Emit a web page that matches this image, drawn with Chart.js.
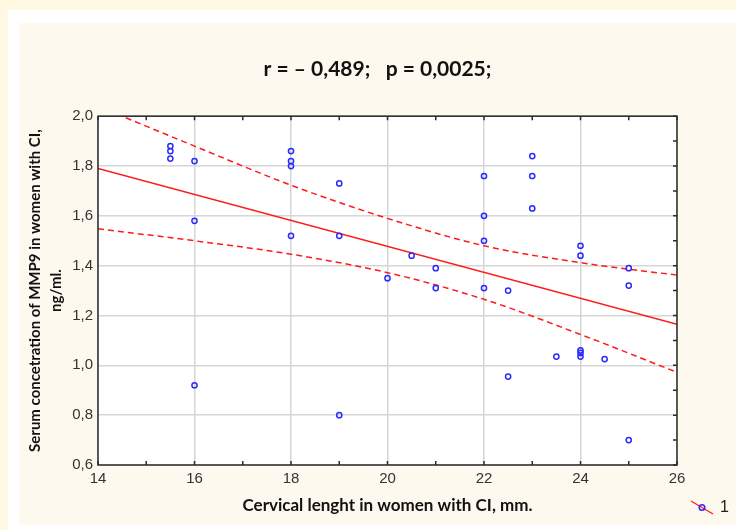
<!DOCTYPE html>
<html>
<head>
<meta charset="utf-8">
<script src="https://cdn.jsdelivr.net/npm/chart.js@4/dist/chart.umd.min.js"></script>
<style>
  html, body { margin: 0; padding: 0; }
  body { width: 736px; height: 530px; background: #fff9e4; position: relative; overflow: hidden; }
  #frame { position: absolute; left: 8px; top: 10px; width: 728px; height: 520px; background: #ffffff; }
  #wrap { position: absolute; left: 19px; top: 23px; width: 717px; height: 502px; background: #fef9ef; }
</style>
</head>
<body>
<div id="frame"></div>
<div id="wrap"><canvas id="chart" width="717" height="502"></canvas></div>
<script>
// cervical length (mm) and serum MMP9 (ng/ml)
const cervLen = [15.5, 15.5, 15.5, 16, 16, 16, 18, 18, 18, 18, 19, 19, 19, 20, 20.5, 21, 21,
  22, 22, 22, 22, 22.5, 22.5, 23, 23, 23, 23.5, 24, 24, 24, 24, 24, 24.5, 25, 25, 25];
const mmp9 = [1.88, 1.86, 1.83, 1.82, 1.58, 0.92, 1.86, 1.82, 1.80, 1.52, 1.73, 1.52, 0.80, 1.35, 1.44, 1.39, 1.31,
  1.76, 1.60, 1.50, 1.31, 1.30, 0.955, 1.84, 1.76, 1.63, 1.035, 1.48, 1.44, 1.06, 1.05, 1.035, 1.025, 1.39, 1.32, 0.70];

const fitX = [14, 26];
const fitY = [1.79, 1.165];
const upperX = [14, 16, 18, 20, 22, 24, 26];
const upperY = [2.04, 1.88, 1.723, 1.59, 1.48, 1.412, 1.362];
const lowerX = [14, 16, 18, 20, 22, 24, 26];
const lowerY = [1.548, 1.50, 1.446, 1.372, 1.265, 1.124, 0.972];

const xTicks = [14, 16, 18, 20, 22, 24, 26];
const yTicks = [0.6, 0.8, 1.0, 1.2, 1.4, 1.6, 1.8, 2.0];

function pairs(xs, ys) {
  return xs.map((x, i) => ({ x: x, y: ys[i] }));
}

const red = "#ff1a1a";
const blue = "#2a2aff";

const frameBox = {
  id: "frameBox",
  beforeDraw(chart) {
    const a = chart.chartArea;
    const c = chart.ctx;
    c.save();
    c.fillStyle = "#ffffff";
    c.fillRect(a.left, a.top, a.right - a.left, a.bottom - a.top);
    c.restore();
  },
  afterDatasetsDraw(chart) {
    const a = chart.chartArea;
    const c = chart.ctx;
    const xs = chart.scales.x;
    const ys = chart.scales.y;
    c.save();
    c.strokeStyle = "#2b2b2b";
    c.lineWidth = 1.5;
    c.beginPath();
    for (let v = 14; v <= 26; v++) {
      const px = xs.getPixelForValue(v);
      c.moveTo(px, a.bottom);
      c.lineTo(px, a.bottom - 4);
      c.moveTo(px, a.top);
      c.lineTo(px, a.top + 4);
    }
    for (let k = 6; k <= 20; k++) {
      const py = ys.getPixelForValue(k / 10);
      c.moveTo(a.right, py);
      c.lineTo(a.right - 4, py);
    }
    c.stroke();
    c.strokeRect(a.left, a.top, a.right - a.left, a.bottom - a.top);

    // legend: line with marker, label "1"
    c.strokeStyle = red;
    c.lineWidth = 1.3;
    c.beginPath();
    c.moveTo(672, 478);
    c.lineTo(694, 491);
    c.stroke();
    c.strokeStyle = blue;
    c.lineWidth = 1.5;
    c.beginPath();
    c.arc(683, 484.5, 2.8, 0, Math.PI * 2);
    c.stroke();
    c.fillStyle = "#222";
    c.font = "16px 'Liberation Sans', Arial, sans-serif";
    c.textBaseline = "middle";
    c.fillText("1", 701, 485);
    c.restore();
  },
};

const ctx = document.getElementById("chart");

new Chart(ctx, {
  type: "scatter",
  data: {
    datasets: [
      {
        label: "1",
        data: pairs(cervLen, mmp9),
        pointRadius: 2.6,
        pointBorderWidth: 1.5,
        pointBorderColor: blue,
        pointBackgroundColor: "rgba(255,255,255,0)",
        order: 0,
      },
      {
        type: "line",
        data: pairs(fitX, fitY),
        borderColor: red,
        borderWidth: 1.5,
        pointRadius: 0,
        order: 1,
      },
      {
        type: "line",
        data: pairs(upperX, upperY),
        borderColor: red,
        borderWidth: 1.5,
        borderDash: [6, 4],
        cubicInterpolationMode: "monotone",
        pointRadius: 0,
        order: 1,
      },
      {
        type: "line",
        data: pairs(lowerX, lowerY),
        borderColor: red,
        borderWidth: 1.5,
        borderDash: [6, 4],
        cubicInterpolationMode: "monotone",
        pointRadius: 0,
        order: 1,
      },
    ],
  },
  options: {
    responsive: false,
    animation: false,
    layout: { padding: 0 },
    plugins: {
      legend: { display: false },
      tooltip: { enabled: false },
      title: {
        display: true,
        text: "r = \u2013 0,489;   p = 0,0025;",
        color: "#111",
        font: { family: "Lato, 'Open Sans', sans-serif", size: 21, weight: "bold", lineHeight: 1.2 },
        padding: { top: 34, bottom: 34 },
      },
    },
    scales: {
      x: {
        type: "linear",
        min: 14,
        max: 26,
        afterFit(scale) { scale.height = 60; },
        afterBuildTicks(scale) { scale.ticks = xTicks.map((v) => ({ value: v })); },
        grid: { color: "#d6d6d6", lineWidth: 1.5, drawTicks: false },
        border: { display: false },
        ticks: {
          padding: 5,
          color: "#333",
          font: { family: "'Liberation Sans', Arial, sans-serif", size: 15 },
        },
        title: {
          display: true,
          text: "Cervical lenght in women with CI, mm.",
          color: "#111",
          font: { family: "Lato, 'Open Sans', sans-serif", size: 17, weight: "bold", lineHeight: 1.2 },
          padding: { top: 0, bottom: 9 },
        },
      },
      y: {
        type: "linear",
        min: 0.6,
        max: 2.0,
        afterFit(scale) { scale.width = 79; },
        afterBuildTicks(scale) { scale.ticks = yTicks.map((v) => ({ value: v })); },
        grid: { color: "#d6d6d6", lineWidth: 1.5, drawTicks: false },
        border: { display: false },
        ticks: {
          padding: 5,
          color: "#333",
          font: { family: "'Liberation Sans', Arial, sans-serif", size: 15 },
          callback: (v) => v.toFixed(1).replace(".", ","),
        },
        title: {
          display: true,
          text: ["Serum concetration of MMP9 in women with CI,", "ng/ml."],
          color: "#111",
          font: { family: "Lato, 'Open Sans', sans-serif", size: 15, weight: "bold", lineHeight: 1.45 },
          padding: { top: 5, bottom: 0 },
        },
      },
      // empty right-hand axis that only reserves the margin beside the plot
      yRight: {
        type: "linear",
        position: "right",
        display: true,
        afterFit(scale) { scale.width = 59; },
        grid: { display: false, drawTicks: false },
        border: { display: false },
        ticks: { display: false },
      },
    },
  },
  plugins: [frameBox],
});
</script>
</body>
</html>
